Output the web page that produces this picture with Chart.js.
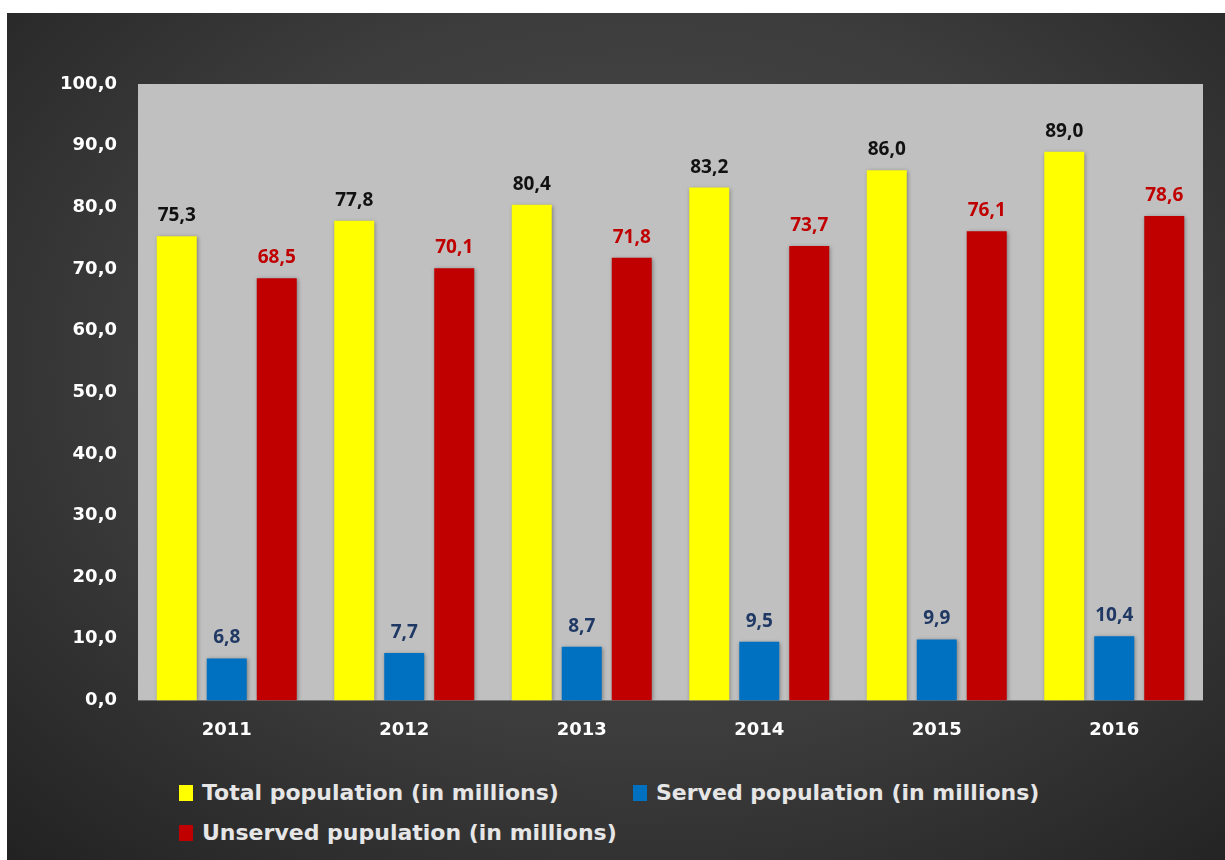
<!DOCTYPE html>
<html>
<head>
<meta charset="utf-8">
<script src="https://cdn.jsdelivr.net/npm/chart.js@4/dist/chart.umd.min.js"></script>
<style>
    html, body { margin: 0; padding: 0; background: #fff; }
    #frame {
        position: absolute; left: 7px; top: 13px; width: 1218px; height: 847px;
        background: radial-gradient(ellipse 75% 80% at 52% 42%, #4e4e4e 0%, #3c3c3c 55%, #222 100%);
        overflow: hidden;
    }
    #wrap { position: absolute; left: 0; top: 0; width: 1218px; height: 743px; }
    #legend {
        position: absolute; left: 0; top: 764px; width: 1218px;
        font: bold 22px "DejaVu Sans", sans-serif; color: #e6e6e6;
    }
    .item { position: absolute; display: flex; align-items: center; white-space: nowrap; line-height: 26px; }
    .box { width: 14px; height: 16px; margin-right: 9px; }
</style>
</head>
<body>
<div id="frame">
    <div id="wrap"><canvas id="chart"></canvas></div>
    <div id="legend"></div>
</div>
<script>
// chart data
const years = ['2011', '2012', '2013', '2014', '2015', '2016'];
const totalPop = [75.3, 77.8, 80.4, 83.2, 86.0, 89.0];
const servedPop = [6.8, 7.7, 8.7, 9.5, 9.9, 10.4];
const unservedPop = [68.5, 70.1, 71.8, 73.7, 76.1, 78.6];

const seriesNames = ['Total population (in millions)', 'Served population (in millions)', 'Unserved pupulation (in millions)'];
const seriesColors = ['#ffff00', '#0070c0', '#c00000'];
const labelColors = ['#111111', '#1f3864', '#c00000'];

const fmt = v => v.toFixed(1).replace('.', ',');

// grey plot background
const plotBg = {
    id: 'plotBg',
    beforeDraw(chart) {
        const { ctx, chartArea: a } = chart;
        ctx.save();
        ctx.fillStyle = '#c0c0c0';
        ctx.fillRect(a.left, a.top, a.right - a.left, a.bottom - a.top);
        ctx.restore();
    }
};

// soft shadow under bars
const barShadow = {
    id: 'barShadow',
    beforeDatasetsDraw(chart) {
        const ctx = chart.ctx;
        ctx.save();
        ctx.shadowColor = 'rgba(0,0,0,0.35)';
        ctx.shadowBlur = 4;
        ctx.shadowOffsetX = 1;
        ctx.shadowOffsetY = 1;
    },
    afterDatasetsDraw(chart) {
        chart.ctx.restore();
    }
};

// value labels above the bars
const valueLabels = {
    id: 'valueLabels',
    afterDatasetsDraw(chart) {
        const ctx = chart.ctx;
        ctx.save();
        ctx.font = 'bold 19px "Open Sans", sans-serif';
        ctx.textAlign = 'center';
        ctx.textBaseline = 'alphabetic';
        chart.data.datasets.forEach((ds, i) => {
            ctx.fillStyle = labelColors[i];
            chart.getDatasetMeta(i).data.forEach((bar, j) => {
                ctx.fillText(fmt(ds.data[j]), bar.x, bar.y - 15);
            });
        });
        ctx.restore();
    }
};

const chartData = {
    labels: years,
    datasets: [totalPop, servedPop, unservedPop].map((d, i) => ({
        label: seriesNames[i],
        data: d,
        backgroundColor: seriesColors[i],
        borderWidth: 0,
        categoryPercentage: 0.845,
        barPercentage: 0.8
    }))
};

new Chart(document.getElementById('chart'), {
    type: 'bar',
    data: chartData,
    options: {
        responsive: true,
        maintainAspectRatio: false,
        animation: false,
        layout: { padding: { top: 71, right: 22, bottom: 4, left: 0 } },
        plugins: {
            legend: { display: false },
            tooltip: { enabled: false }
        },
        scales: {
            x: {
                grid: { display: false },
                border: { display: false },
                ticks: {
                    color: '#ffffff',
                    font: { family: 'DejaVu Sans', weight: 'bold', size: 18 },
                    padding: 11
                }
            },
            y: {
                min: 0,
                max: 100,
                afterFit: (scale) => { scale.width = 131; },
                grid: { display: false, drawTicks: false },
                border: { display: false },
                ticks: {
                    stepSize: 10,
                    color: '#ffffff',
                    font: { family: 'DejaVu Sans', weight: 'bold', size: 18 },
                    padding: 21,
                    callback: v => fmt(v)
                }
            }
        }
    },
    plugins: [plotBg, barShadow, valueLabels]
});

// legend laid out like the original: two items on the first row, one on the second
const legendPos = [[172, 3], [626, 3], [172, 43]];
const legend = document.getElementById('legend');
seriesNames.forEach((name, i) => {
    const item = document.createElement('div');
    item.className = 'item';
    item.style.left = legendPos[i][0] + 'px';
    item.style.top = legendPos[i][1] + 'px';
    item.innerHTML = '<span class="box" style="background:' + seriesColors[i] + '"></span><span>' + name + '</span>';
    legend.appendChild(item);
});
</script>
</body>
</html>
